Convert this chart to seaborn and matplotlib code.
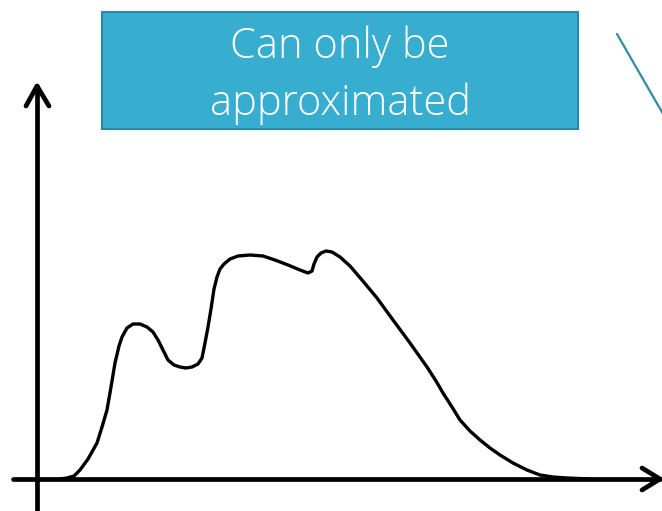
import numpy as np
import pandas as pd
import matplotlib
matplotlib.use('Agg')
import matplotlib.pyplot as plt
import seaborn as sns

# hand-drawn curve, x position and height above the x axis (pixels)
x_vals = [60, 67, 74, 80, 88, 97, 102, 107, 111, 115, 119, 122, 127, 133, 140, 147, 153,
          158, 163, 168, 174, 180, 186, 192, 198, 202, 205, 208, 211, 214, 217, 220, 224,
          230, 238, 250, 263, 275, 288, 300, 308, 312, 314, 317, 321, 326, 332, 340, 350,
          362, 377, 393, 410, 427, 436, 443, 452, 460, 470, 480, 490, 500, 513, 527, 540,
          553, 567, 590]
y_vals = [0, 1, 3, 9, 20, 36, 52, 69, 92, 116, 133, 142, 151, 155, 155, 152, 147,
          139, 129, 119, 114, 112, 111, 112, 115, 121, 136, 152, 170, 190, 202, 210, 215,
          220, 223, 224, 223, 219, 214, 209, 206, 208, 215, 222, 226, 228, 227, 222, 213,
          199, 181, 159, 136, 112, 98, 86, 72, 59, 48, 39, 31, 24, 16, 9, 4,
          2, 1, 0]
label_lines = ['Can only be', 'approximated']

df = pd.DataFrame({'x': x_vals, 'y': y_vals})

sns.set_style('white')
plt.rcParams['font.family'] = ['Open Sans', 'DejaVu Sans']

fig = plt.figure(figsize=(6.62, 5.11), dpi=100)
ax = fig.add_axes([0, 0, 1, 1])
ax.set_xlim(0, 662)
ax.set_ylim(-32, 479)
ax.axis('off')

sns.lineplot(data=df, x='x', y='y', sort=False, color='black', linewidth=2.4,
             ax=ax, solid_capstyle='round', solid_joinstyle='round')

# axes with open arrow heads
axis_kw = dict(color='black', linewidth=3.4, solid_capstyle='round', solid_joinstyle='round')
ax.plot([13, 660], [0, 0], **axis_kw)
ax.plot([642, 660, 642], [11, 0, -11], **axis_kw)
ax.plot([37, 37], [-40, 393], **axis_kw)
ax.plot([26, 37, 49], [373, 393, 373], **axis_kw)

# teal connector line at top right
ax.plot([617, 670], [445, 353], color='#2e8ca3', linewidth=1.6)

# label box
ax.add_patch(plt.Rectangle((102, 479 - 129), 476, 117, facecolor='#37aed0',
                           edgecolor='#2a8aa5', linewidth=1.5))
ax.text(340, 479 - 58, label_lines[0], ha='center', va='baseline', color='white',
        fontsize=30, fontweight='light')
ax.text(340, 479 - 115, label_lines[1], ha='center', va='baseline', color='white',
        fontsize=30, fontweight='light')

fig.savefig('out.png', dpi=100)
